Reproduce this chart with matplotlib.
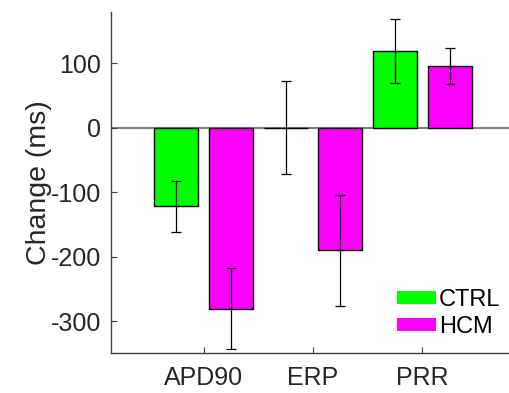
import numpy as np
import matplotlib.pyplot as plt

plt.rcParams['font.family'] = ['Liberation Sans', 'DejaVu Sans']
plt.rcParams['axes.unicode_minus'] = False

categories = ["APD90", "ERP", "PRR"]
ctrl_mean = [-122, 0, 119]
ctrl_err = [39, 72, 50]
hcm_mean = [-281, -190, 96]
hcm_err = [63, 86, 28]

fig = plt.figure(figsize=(5.10, 3.93), dpi=100)
ax = fig.add_axes([0.2167, 0.101, 0.7833, 0.869])

x = np.arange(1, len(categories) + 1)
w = 0.40
off = 0.25

ax.axhline(0, color='#808080', lw=1.5, zorder=1)
ax.bar(x - off, ctrl_mean, w, color='#00ff00', edgecolor='black', lw=1, zorder=2)
ax.bar(x + off, hcm_mean, w, color='#ff00ff', edgecolor='black', lw=1, zorder=2)
ax.errorbar(x - off, ctrl_mean, yerr=ctrl_err, fmt='none', ecolor='black', elinewidth=0.9, capsize=3.3, capthick=0.9, zorder=3)
ax.errorbar(x + off, hcm_mean, yerr=hcm_err, fmt='none', ecolor='black', elinewidth=0.9, capsize=3.3, capthick=0.9, zorder=3)

# legend patches without edges, like the original
ax.bar([0], [0], color='#00ff00', lw=0, label='CTRL')
ax.bar([0], [0], color='#ff00ff', lw=0, label='HCM')

ax.set_xlim(0.15, 3.80)
ax.set_ylim(-350, 180)
ax.set_xticks(x)
ax.set_xticklabels(categories)
ax.set_yticks([-300, -200, -100, 0, 100])

for s in ['top', 'right']:
    ax.spines[s].set_visible(False)
for s in ['left', 'bottom']:
    ax.spines[s].set_color('#404040')
    ax.spines[s].set_linewidth(1.0)

ax.tick_params(axis='both', direction='in', length=4, width=0.8, color='#404040',
               labelsize=18, labelcolor='#262626')
ax.tick_params(axis='x', pad=9)
ax.tick_params(axis='y', pad=7)
ax.set_ylabel("Change (ms)", fontsize=20.5, color='#262626', labelpad=-1)

ax.legend(loc='lower right', bbox_to_anchor=(1.0, 0.016), frameon=False, fontsize=17,
          handlelength=1.65, handleheight=0.47, handletextpad=0.15, labelspacing=0.23,
          borderaxespad=0.0)

fig.savefig("out.png", dpi=100)
